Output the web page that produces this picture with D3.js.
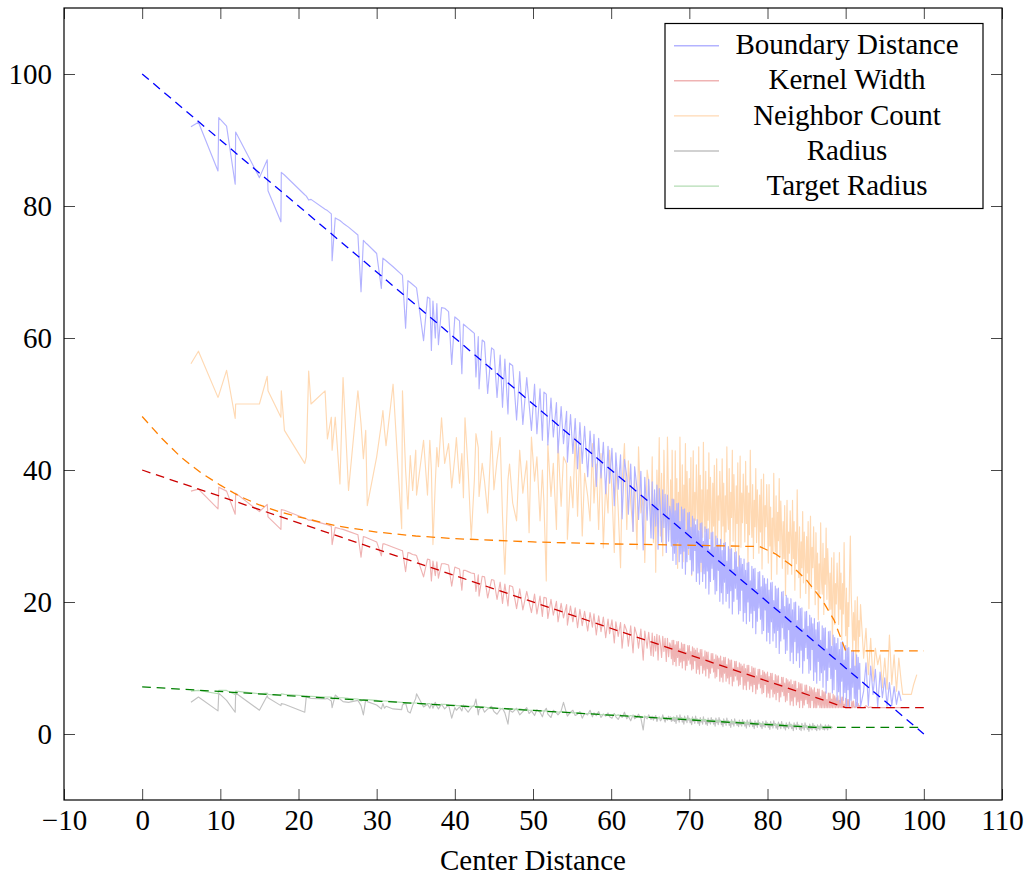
<!DOCTYPE html>
<html><head><meta charset="utf-8">
<script src="https://cdn.jsdelivr.net/npm/d3@7"></script>
<style>
body{margin:0;background:#fff;}
svg text{font-family:"Liberation Serif","Times New Roman",serif;}
</style></head><body>
<svg id="chart" width="1030" height="876"></svg>
<script>
// ---------- data ----------
const centerDistance = [
6.24,7.2,9.7,9.8,10.8,11.9,11.96,15.0,16.0,16.1,
17.75,17.8,18.2,20.8,21.0,21.3,21.6,23.4,23.7,24.2,
24.3,24.7,25.3,25.7,26.4,27.6,28.0,28.3,28.6,28.8,
30.0,30.6,30.8,31.0,31.2,32.1,33.2,33.3,33.7,34.0,
34.3,34.6,35.0,35.1,36.0,36.5,36.8,37.0,37.2,37.5,
37.7,37.9,38.3,
38.7,39.2,39.6,40.0,40.2,40.6,40.9,41.1,41.3,41.7,
42.1,42.5,42.7,43.0,43.1,43.5,43.8,44.2,44.7,45.0,
45.4,45.8,46.1,46.4,46.8,47.0,47.4,47.9,48.3,48.7,
49.2,49.5,49.8,50.2,50.5,50.9,51.2,51.4,51.7,51.9,
52.3,52.6,53.0,53.2,53.6,53.9,54.3,54.4,54.8,55.1,
55.4,55.7,56.0,56.3,56.6,57.0,57.3,57.6,57.8,58.1,
58.4,58.7,59.0,59.3,59.6,59.8,
60.1,60.4,60.6,60.9,61.2,61.4,61.7,62.0,62.2,62.5,
62.8,63.0,63.3,63.5,63.8,64.1,64.3,64.6,64.8,65.1,
65.25,65.4,65.55,65.7,65.85,66.0,66.15,66.3,66.45,66.6,66.75,66.9,67.05,67.2,67.35,67.5,
67.6,67.7,67.8,67.9,
68.0,68.1,68.2,68.3,68.4,68.5,68.6,68.7,68.8,68.9,
69.0,69.1,69.2,69.3,69.4,69.5,69.6,69.7,69.8,69.9,
70.0,70.1,70.2,70.3,70.4,70.5,70.6,70.7,70.8,70.9,
71.0,71.1,71.2,71.3,71.4,71.5,71.6,71.7,71.8,71.9,
72.0,72.1,72.2,72.3,72.4,72.5,72.6,72.7,72.8,72.9,
73.0,73.1,73.2,73.3,73.4,73.5,73.6,73.7,73.8,73.9,
74.0,74.1,74.2,74.3,74.4,74.5,74.6,74.7,74.8,74.9,
75.0,75.1,75.2,75.3,75.4,75.5,75.6,75.7,75.8,75.9,
76.0,76.1,76.2,76.3,76.4,76.5,76.6,76.7,76.8,76.9,
77.0,77.1,77.2,77.3,77.4,77.5,77.6,77.7,77.8,77.9,
78.0,78.1,78.2,78.3,78.4,78.5,78.6,78.7,78.8,78.9,
79.0,79.1,79.2,79.3,79.4,79.5,79.6,79.7,79.8,79.9,
80.0,80.1,80.2,80.3,80.4,80.5,80.6,80.7,80.8,80.9,
81.0,81.1,81.2,81.3,81.4,81.5,81.6,81.7,81.8,81.9,
82.0,82.1,82.2,82.3,82.4,82.5,82.6,82.7,82.8,82.9,
83.0,83.1,83.2,83.3,83.4,83.5,83.6,83.7,83.8,83.9,
84.0,84.1,84.2,84.3,84.4,84.5,84.6,84.7,84.8,84.9,
85.0,85.1,85.2,85.3,85.4,85.5,85.6,85.7,85.8,85.9,
86.0,86.1,86.2,86.3,86.4,86.5,86.6,86.7,86.8,86.9,
87.0,87.1,87.2,87.3,87.4,87.5,87.6,87.7,87.8,87.9,
88.0,88.1,88.2,88.3,88.4,88.5,88.6,88.7,88.8,88.9,
89.0,89.1,89.2,89.3,89.4,89.5,89.6,89.7,89.8,89.9,
90.0,90.1,90.2,90.3,90.4,90.5,90.6,90.7,90.8,90.9,
91.0,91.1,91.2,91.3,91.4,91.5,91.6,91.7,91.8,91.9,
92.3,
92.6,92.9,93.2,93.5,93.8,94.1,94.4,94.7,95.0,95.3,
95.6,95.9,96.2,96.5,96.8,97.1,97.3,97.7,98.0,98.4,
98.7,99.1
];
const boundaryDistance = [
92.0,92.7,85.3,93.4,92.1,83.3,91.2,84.3,87.0,82.3,
77.6,85.1,84.7,81.7,81.5,80.9,81.0,79.5,79.3,78.8,
71.7,78.2,77.8,77.4,76.8,75.6,67.0,74.8,74.4,74.2,
72.8,67.5,72.1,71.9,71.7,70.8,69.6,69.5,61.5,68.7,
68.4,68.1,67.7,67.6,59.6,66.2,66.0,58.1,65.6,60.0,
65.2,59.0,64.6,
64.5,64.0,56.0,63.2,63.0,62.6,54.6,62.1,61.9,61.5,
61.1,60.7,54.1,60.2,52.3,59.7,59.4,51.6,58.5,58.2,
51.0,57.4,49.5,56.8,48.5,56.2,55.8,47.6,54.9,46.9,
54.0,50.0,46.0,53.0,45.5,52.3,44.5,51.8,51.5,43.8,
50.9,45.0,50.2,42.6,49.6,44.0,48.9,41.2,48.4,42.5,
47.8,40.2,47.2,41.0,46.6,39.0,45.9,40.5,45.4,37.5,
44.8,38.8,44.2,36.4,43.6,38.0,
43.3,34.6,42.6,37.1,42.3,32.6,41.6,39.0,33.3,40.9,
30.7,40.5,37.2,32.5,39.8,27.9,38.9,32.4,38.6,29.7,
38.2,29.6,37.0,31.5,37.7,28.0,37.2,34.2,29.1,37.0,31.3,36.3,27.5,36.2,29.2,34.5,
33.4,28.5,35.6,26.3,
35.5,27.4,33.8,25.7,34.9,29.0,35.0,26.1,32.2,27.3,
34.4,25.1,34.0,27.7,34.1,24.2,30.9,26.1,33.5,28.1,
33.6,26.4,31.3,24.2,33.0,24.7,32.6,27.8,31.7,23.1,
32.5,24.4,30.8,22.7,31.9,26.0,32.0,23.1,29.2,24.3,
31.4,22.1,31.0,24.7,31.1,21.2,27.9,23.1,30.5,25.1,
30.6,23.4,28.3,21.2,30.0,21.7,29.6,24.8,28.7,20.1,
29.5,21.4,27.8,19.7,28.9,23.0,29.0,20.1,26.2,21.3,
28.4,19.1,28.0,21.7,28.1,18.2,24.9,20.1,27.5,22.1,
27.6,20.4,25.3,18.2,27.0,18.7,26.6,21.8,25.7,17.1,
26.5,18.4,24.8,16.7,25.9,20.0,26.0,17.1,23.2,18.3,
25.4,16.1,25.0,18.7,25.1,15.2,21.9,17.1,24.5,19.1,
24.6,17.4,22.3,15.2,24.0,15.7,23.6,18.8,22.7,14.1,
23.5,15.4,21.8,13.7,22.9,17.0,23.0,14.1,20.2,15.3,
22.4,13.1,22.0,15.7,22.1,12.2,18.9,14.1,21.5,16.1,
21.6,14.4,19.3,12.2,21.0,12.7,20.6,15.8,19.7,11.1,
20.5,12.4,18.8,10.7,19.9,14.0,20.0,11.1,17.2,12.3,
19.4,10.1,19.0,12.7,19.1,9.2,15.9,11.1,18.5,13.1,
18.6,11.4,16.3,9.2,18.0,9.7,17.6,12.8,16.7,8.1,
17.5,9.4,15.8,7.7,16.9,11.0,17.0,8.1,14.2,9.3,
16.4,7.1,16.0,9.7,16.1,6.2,12.9,8.1,15.5,10.1,
15.6,8.4,13.3,6.2,15.0,6.7,14.6,9.8,13.7,5.1,
14.5,6.4,12.8,4.7,13.9,8.0,14.0,5.1,11.2,6.3,
13.4,4.1,13.0,6.7,13.1,4.2,9.9,5.1,12.5,7.1,
12.6,5.4,10.3,4.2,12.0,4.3,11.6,6.8,10.7,4.1,
6.5,
10.8,4.3,10.3,6.0,9.8,4.1,9.4,5.5,8.5,4.2,
7.8,4.3,7.2,4.5,6.5,5.0
];
const kernelWidth = [
36.8,37.1,34.1,37.4,36.8,33.3,36.5,33.7,34.8,32.9,
31.0,34.0,33.9,32.7,32.6,32.4,32.4,31.8,31.7,31.5,
28.7,31.3,31.1,31.0,30.7,30.2,26.8,29.9,29.8,29.7,
29.1,27.0,28.8,28.8,28.7,28.3,27.8,27.8,24.6,27.5,
27.4,27.2,27.1,27.0,23.8,26.5,26.4,23.2,26.2,24.0,
26.1,23.6,25.8,
25.8,25.6,22.4,25.3,25.2,25.0,21.8,24.8,24.8,24.6,
24.4,24.3,21.6,24.1,20.9,23.9,23.8,20.6,23.4,23.3,
20.4,23.0,19.8,22.7,19.4,22.5,22.3,19.0,22.0,18.8,
21.6,20.0,18.4,21.2,18.2,20.9,17.8,20.7,20.6,17.5,
20.4,18.0,20.1,17.0,19.8,17.6,19.6,16.5,19.4,17.0,
19.1,16.1,18.9,16.4,18.6,15.6,18.4,16.2,18.2,15.0,
17.9,15.5,17.7,14.6,17.4,15.2,
17.3,13.8,17.0,14.8,16.9,13.0,16.6,15.6,13.3,16.4,
12.3,16.2,14.9,13.0,15.9,11.2,15.6,13.0,15.4,11.9,
15.3,11.8,14.8,12.6,15.1,11.2,14.9,13.7,11.6,14.8,12.5,14.5,11.0,14.5,11.7,13.8,
13.4,11.4,14.2,10.5,
14.2,11.0,13.5,10.3,14.0,11.6,14.0,10.4,12.9,10.9,
13.8,10.0,13.6,11.1,13.6,9.7,12.4,10.4,13.4,11.2,
13.4,10.6,12.5,9.7,13.2,9.9,13.0,11.1,12.7,9.2,
13.0,9.8,12.3,9.1,12.8,10.4,12.8,9.2,11.7,9.7,
12.6,8.8,12.4,9.9,12.4,8.5,11.2,9.2,12.2,10.0,
12.2,9.4,11.3,8.5,12.0,8.7,11.8,9.9,11.5,8.0,
11.8,8.6,11.1,7.9,11.6,9.2,11.6,8.0,10.5,8.5,
11.4,7.6,11.2,8.7,11.2,7.3,10.0,8.0,11.0,8.8,
11.0,8.2,10.1,7.3,10.8,7.5,10.6,8.7,10.3,6.8,
10.6,7.4,9.9,6.7,10.4,8.0,10.4,6.8,9.3,7.3,
10.2,6.4,10.0,7.5,10.0,6.1,8.8,6.8,9.8,7.6,
9.8,7.0,8.9,6.1,9.6,6.3,9.4,7.5,9.1,5.6,
9.4,6.2,8.7,5.5,9.2,6.8,9.2,5.6,8.1,6.1,
9.0,5.2,8.8,6.3,8.8,4.9,7.6,5.6,8.6,6.4,
8.6,5.8,7.7,4.9,8.4,5.1,8.2,6.3,7.9,4.4,
8.2,5.0,7.5,4.3,8.0,5.6,8.0,4.4,6.9,4.9,
7.8,4.0,7.6,5.1,7.6,4.0,6.4,4.4,7.4,5.2,
7.4,4.6,6.5,4.0,7.2,4.0,7.0,5.1,6.7,4.0,
7.0,4.0,6.3,4.0,6.8,4.4,6.8,4.0,5.7,4.0,
6.6,4.0,6.4,4.0,6.4,4.0,5.2,4.0,6.2,4.0,
6.2,4.0,5.3,4.0,6.0,4.0,5.8,4.0,5.5,4.0,
5.8,4.0,5.1,4.0,5.6,4.0,5.6,4.0,4.5,4.0,
5.4,4.0,5.2,4.0,5.2,4.0,4.0,4.0,5.0,4.0,
5.0,4.0,4.1,4.0,4.8,4.0,4.6,4.0,4.3,4.0,
4.0,
4.3,4.0,4.1,4.0,4.0,4.0,4.0,4.0,4.0,4.0,
4.0,4.0,4.0,4.0,4.0,4.0
];
const neighborCount = [
56.1,58.0,51.0,51.3,55.1,47.8,50.0,50.0,54.2,52.0,
48.0,52.0,46.0,41.0,42.0,55.0,50.0,52.0,44.7,48.0,
43.0,48.0,37.9,54.0,36.9,52.0,47.0,41.7,46.0,34.6,
42.0,47.0,49.0,46.0,43.7,53.0,31.1,52.0,40.0,34.1,
42.2,36.9,43.0,36.2,44.5,36.2,44.5,40.0,28.7,38.0,
43.4,40.5,47.9,
41.0,44.0,37.3,42.0,44.9,38.0,42.5,35.8,47.9,40.0,
29.7,38.5,45.5,43.4,36.0,41.0,38.3,33.5,45.9,37.0,
41.5,44.9,33.0,24.2,38.5,40.9,35.0,32.3,43.0,36.5,
41.4,30.5,45.0,38.3,42.0,32.3,40.0,35.0,23.2,43.9,
36.0,41.0,31.0,44.4,34.5,42.0,40.9,29.5,39.0,34.3,
45.0,33.0,43.4,30.0,39.5,36.0,32.3,44.0,35.0,40.9,
31.0,42.5,28.2,38.0,33.5,43.0,
36.8,27.5,41.0,34.0,25.2,38.0,44.0,31.0,41.4,35.0,
30.7,39.0,28.0,43.5,33.5,36.0,26.0,40.0,38.3,31.5,
42.0,29.0,36.5,24.5,40.0,33.0,44.9,30.0,39.5,27.0,43.0,33.5,28.7,45.0,35.0,31.0,
38.5,29.0,43.0,33.0,
35.6,28.2,42.9,31.4,38.7,25.1,36.6,30.3,45.0,33.5,
30.3,40.8,26.1,37.7,32.4,44.0,29.3,39.8,34.5,27.2,
38.7,31.4,41.9,24.0,34.5,42.9,28.2,36.6,32.4,40.8,
35.0,28.8,43.5,31.0,39.2,24.6,37.0,29.8,44.2,33.9,
30.6,39.8,26.9,37.0,32.4,42.6,29.6,38.9,34.3,27.8,
38.0,31.5,40.7,25.0,34.3,41.7,28.7,36.1,32.4,39.8,
35.2,28.7,41.7,31.5,38.0,25.9,36.1,30.6,43.5,33.3,
31.0,40.2,26.5,36.6,32.8,43.0,29.2,39.3,33.9,27.4,
37.6,31.9,41.1,25.4,33.9,42.1,28.3,36.5,32.0,39.4,
34.8,29.1,41.3,31.9,37.6,25.5,36.5,30.2,43.0,33.7,
29.8,37.8,26.6,35.4,31.4,40.2,29.0,37.0,33.0,27.4,
36.2,30.6,38.6,25.0,33.0,39.4,28.2,34.6,31.4,37.8,
31.9,25.9,37.8,28.5,34.4,23.4,32.7,27.6,39.5,30.2,
27.6,36.1,24.2,33.6,29.3,38.7,26.8,35.3,31.0,25.1,
32.2,26.6,34.6,21.0,29.0,35.4,24.2,30.6,27.4,33.8,
29.8,24.2,35.4,26.6,32.2,21.8,30.6,25.8,37.0,28.2,
23.7,31.4,20.6,29.1,25.2,33.7,22.9,30.6,26.8,21.3,
29.9,24.4,32.2,19.0,26.8,33.0,22.1,28.3,25.2,31.4,
25.0,19.6,30.5,21.9,27.4,17.3,25.8,21.2,32.0,23.5,
21.2,28.9,18.1,26.6,22.7,31.2,20.4,28.1,24.3,18.8,
24.4,18.9,26.7,13.5,21.3,27.5,16.6,22.8,19.7,25.9,
22.0,16.6,27.5,18.9,24.4,14.3,22.8,18.2,29.0,20.5,
14.9,22.1,12.0,19.9,16.3,24.3,30.0,21.4,17.8,12.7,
18.4,14.2,20.2,10.0,16.0,20.8,12.4,17.2,14.8,19.6,
11.5,
16.0,9.0,14.5,8.0,13.0,10.5,12.0,7.0,11.5,6.8,
15.0,7.5,12.0,6.5,11.5,8.0,6.0,6.0,6.0,6.0,
7.5,9.0
];
const radius = [
4.8,5.6,3.5,6.2,5.1,3.3,6.2,3.6,5.8,5.5,
4.3,4.6,4.5,3.3,5.7,5.5,5.4,5.3,5.4,5.0,
4.0,5.9,5.3,4.9,4.8,5.1,4.3,2.9,5.2,4.9,
4.4,3.8,4.6,3.9,4.2,3.8,3.7,4.4,4.7,3.4,
3.2,4.3,5.4,6.1,4.1,4.5,3.9,4.6,3.9,4.8,
4.2,3.8,4.5,
3.8,4.4,2.4,4.0,3.6,4.1,3.5,4.4,3.9,3.3,
4.0,4.4,5.3,2.9,3.7,4.1,3.3,3.8,4.2,3.4,
3.0,3.7,3.9,3.2,1.5,3.6,3.3,3.9,2.9,3.4,
4.0,3.1,3.5,2.8,3.7,3.3,2.6,3.4,3.9,3.0,
2.5,3.6,3.2,2.9,3.5,4.8,3.1,2.7,3.3,3.6,
2.8,3.0,3.4,2.4,3.1,2.9,3.6,2.6,3.2,2.8,
3.4,2.5,3.0,2.7,3.2,2.6,
2.4,3.1,2.6,2.2,2.9,2.5,3.3,2.3,2.7,2.0,
2.9,2.3,2.6,3.0,2.4,0.6,2.7,2.3,2.9,2.2,
2.7,2.1,2.5,2.8,1.9,2.4,2.6,2.0,2.2,2.9,2.3,1.8,2.5,2.1,2.7,2.2,
2.6,1.9,2.4,2.0,
2.6,1.9,2.4,1.6,2.8,2.1,2.5,1.8,2.9,2.2,
2.5,1.8,2.3,1.5,2.7,2.0,2.4,1.7,2.8,2.1,
2.4,1.7,2.2,1.4,2.6,1.9,2.3,1.6,2.7,2.0,
2.3,1.6,2.1,1.3,2.5,1.8,2.2,1.5,2.6,1.9,
2.2,1.5,2.0,1.3,2.4,1.7,2.1,1.5,2.5,1.8,
2.2,1.5,2.0,1.2,2.4,1.7,2.1,1.4,2.5,1.8,
2.1,1.4,1.9,1.1,2.3,1.6,2.0,1.3,2.4,1.7,
2.0,1.3,1.8,1.0,2.2,1.5,1.9,1.2,2.3,1.6,
1.9,1.3,1.7,1.1,2.1,1.4,1.8,1.2,2.2,1.5,
1.9,1.2,1.7,0.9,2.1,1.4,1.8,1.1,2.2,1.5,
1.8,1.1,1.6,0.8,2.0,1.3,1.7,1.0,2.1,1.4,
1.7,1.1,1.5,0.8,1.9,1.2,1.6,1.0,2.0,1.3,
1.7,1.0,1.5,0.7,1.9,1.2,1.6,0.9,2.0,1.3,
1.6,0.9,1.4,0.7,1.8,1.1,1.5,0.8,1.9,1.2,
1.5,0.9,1.3,0.6,1.7,1.0,1.4,0.8,1.8,1.1,
1.5,0.8,1.3,0.5,1.7,1.0,1.4,0.7,1.8,1.1,
1.4,0.7,1.2,0.5,1.6,0.9,1.3,0.6,1.7,1.0,
1.3,0.7,1.1,0.4,1.5,0.8,1.2,0.6,1.6,0.9,
1.3,0.7,1.1,0.5,1.4,0.8,1.2,0.6,1.5,0.9,
1.2,0.7,1.1,0.6,1.4,0.8,1.2,0.6,1.4,0.9,
1.2,0.8,1.1,0.9
];
const targetRadius = [
6.5,6.6,6.1,6.6,6.6,6.0,6.5,6.1,6.2,6.0,
5.8,6.1,6.0,5.8,5.8,5.7,5.7,5.6,5.6,5.6,
5.3,5.5,5.5,5.5,5.4,5.3,5.0,5.2,5.2,5.2,
5.1,4.9,5.0,5.0,5.0,4.9,4.8,4.8,4.6,4.7,
4.7,4.7,4.7,4.7,4.4,4.6,4.6,4.4,4.5,4.4,
4.5,4.4,4.5,
4.5,4.4,4.4,4.4,4.3,4.3,4.3,4.2,4.3,4.2,
4.2,4.2,4.1,4.2,4.1,4.1,4.1,4.0,4.0,4.0,
3.9,3.9,3.8,3.9,3.8,3.8,3.8,3.7,3.8,3.7,
3.7,3.6,3.6,3.6,3.6,3.5,3.5,3.5,3.5,3.4,
3.4,3.4,3.4,3.3,3.4,3.3,3.3,3.2,3.3,3.2,
3.2,3.2,3.2,3.1,3.1,3.1,3.1,3.0,3.0,3.0,
3.0,2.9,3.0,2.9,2.9,2.9,
2.9,3.0,2.8,2.9,2.8,2.7,2.9,2.8,2.6,2.8,
2.7,2.8,2.6,2.7,2.6,2.5,2.7,2.6,2.5,2.6,
2.5,2.6,2.4,2.5,2.5,2.4,2.5,2.4,2.3,2.5,2.4,2.3,2.4,2.3,2.4,2.4,
2.4,2.5,2.3,2.5,
2.4,2.5,2.3,2.5,2.4,2.4,2.2,2.3,2.4,2.3,
2.3,2.4,2.2,2.4,2.3,2.4,2.2,2.3,2.3,2.2,
2.2,2.3,2.1,2.3,2.2,2.3,2.1,2.2,2.3,2.2,
2.1,2.2,2.0,2.2,2.1,2.2,2.0,2.1,2.2,2.1,
2.1,2.2,2.0,2.1,2.0,2.1,1.9,2.0,2.1,2.0,
2.0,2.1,1.9,2.1,2.0,2.0,1.9,2.0,2.0,1.9,
1.9,2.0,1.8,2.0,1.9,2.0,1.8,1.9,2.0,1.9,
1.8,1.9,1.7,1.9,1.8,1.9,1.7,1.8,1.9,1.8,
1.8,1.9,1.7,1.8,1.7,1.8,1.6,1.7,1.8,1.7,
1.7,1.8,1.6,1.8,1.7,1.7,1.6,1.7,1.7,1.6,
1.6,1.7,1.5,1.7,1.6,1.7,1.5,1.6,1.7,1.6,
1.6,1.6,1.5,1.6,1.5,1.6,1.4,1.5,1.6,1.5,
1.5,1.6,1.4,1.6,1.5,1.5,1.4,1.5,1.5,1.4,
1.4,1.5,1.3,1.5,1.4,1.5,1.3,1.4,1.5,1.4,
1.3,1.4,1.2,1.4,1.3,1.4,1.2,1.3,1.4,1.3,
1.3,1.4,1.2,1.3,1.2,1.3,1.1,1.2,1.3,1.2,
1.2,1.3,1.1,1.3,1.2,1.2,1.1,1.2,1.2,1.1,
1.1,1.2,1.0,1.2,1.1,1.2,1.0,1.1,1.2,1.1,
1.1,1.2,1.0,1.1,1.0,1.1,1.0,1.0,1.1,1.0,
1.0,1.1,1.0,1.1,1.0,1.1,1.0,1.0,1.1,1.0,
1.0,1.1,1.0,1.0
];
// dashed reference curves
const refBoundaryX = [0, 100];
const refBoundaryY = [100, 0];
const refKernelX = [0, 90, 100];
const refKernelY = [40, 4, 4];
const refNeighborX = [0,2.5,5,7.5,10,12.5,15,17.5,20,25,30,35,40,50,60,70,79,81,83,85,87,88.5,90,100];
const refNeighborY = [48.1,44.8,41.9,39.6,37.7,36.0,34.7,33.7,32.9,31.5,30.6,30.0,29.6,29.1,28.8,28.6,28.4,27.3,25.6,23.3,20.3,17.3,12.6,12.6];
const refTargetX = [0, 86, 100];
const refTargetY = [7.15, 1.0, 1.0];
// axes
const xTicks = [-10,0,10,20,30,40,50,60,70,80,90,100,110];
const yTicks = [0,20,40,60,80,100];
const xDomain = [-10, 110];
const yDomain = [-10, 110];
const seriesNames = ["Boundary Distance","Kernel Width","Neighbor Count","Radius","Target Radius"];
const xLabel = "Center Distance";

// ---------- drawing ----------
const L = 64, R = 1002, T = 8, B = 800;
const FONT = 29;
const svg = d3.select("#chart");
const x = d3.scaleLinear().domain(xDomain).range([L, R]);
const y = d3.scaleLinear().domain(yDomain).range([B, T]);

svg.append("defs").append("clipPath").attr("id","plotclip")
  .append("rect").attr("x",L).attr("y",T).attr("width",R-L).attr("height",B-T);

const lightColors = {
  "Boundary Distance":"#b3b3ff",
  "Kernel Width":"#efb3b3",
  "Neighbor Count":"#ffd9b3",
  "Radius":"#c2c2c2",
  "Target Radius":"#b3dcb3"
};
const seriesValues = {
  "Boundary Distance":boundaryDistance,
  "Kernel Width":kernelWidth,
  "Neighbor Count":neighborCount,
  "Radius":radius,
  "Target Radius":targetRadius
};
const line = d3.line().x(d=>x(d[0])).y(d=>y(d[1]));
function pts(xs, ys){
  const out=[];
  for(let i=0;i<xs.length && i<ys.length;i++){ if(ys[i]!=null) out.push([xs[i],ys[i]]); }
  return out;
}
const plot = svg.append("g").attr("clip-path","url(#plotclip)");
["Neighbor Count","Kernel Width","Boundary Distance","Radius","Target Radius"].forEach(name=>{
  plot.append("path")
    .datum(pts(centerDistance, seriesValues[name]))
    .attr("d", line)
    .attr("fill","none")
    .attr("stroke", lightColors[name])
    .attr("stroke-width", 1.15)
    .attr("stroke-linejoin","round");
});
const refs = [
  [refBoundaryX, refBoundaryY, "#0000ff"],
  [refKernelX, refKernelY, "#cc0000"],
  [refNeighborX, refNeighborY, "#ff8000"],
  [refTargetX, refTargetY, "#008000"]
];
refs.forEach(([xs,ys,c])=>{
  plot.append("path")
    .datum(pts(xs,ys))
    .attr("d", line)
    .attr("fill","none")
    .attr("stroke", c)
    .attr("stroke-width", 1.3)
    .attr("stroke-dasharray","8.7,5.8");
});

// axes (ticks inside, mirrored)
const fmt = d3.format("d");
function styleAxis(g){
  g.select(".domain").remove();
  g.selectAll(".tick line").attr("stroke","#333").attr("stroke-width",0.9);
  g.selectAll(".tick text").attr("fill","#000")
    .style("font-family",'"Liberation Serif","Times New Roman",serif')
    .style("font-size", FONT+"px");
}
svg.append("g").attr("transform",`translate(0,${B})`)
  .call(d3.axisBottom(x).tickValues(xTicks).tickSize(-11).tickPadding(9).tickFormat(fmt))
  .call(styleAxis);
svg.append("g").attr("transform",`translate(0,${T})`)
  .call(d3.axisTop(x).tickValues(xTicks).tickSize(-11).tickFormat(""))
  .call(styleAxis);
svg.append("g").attr("transform",`translate(${L},0)`)
  .call(d3.axisLeft(y).tickValues(yTicks).tickSize(-11).tickPadding(12).tickFormat(fmt))
  .call(styleAxis);
svg.append("g").attr("transform",`translate(${R},0)`)
  .call(d3.axisRight(y).tickValues(yTicks).tickSize(-11).tickFormat(""))
  .call(styleAxis);

svg.append("rect").attr("x",L).attr("y",T).attr("width",R-L).attr("height",B-T)
  .attr("fill","none").attr("stroke","#000").attr("stroke-width",1.2);

svg.append("text").attr("x", x(50)).attr("y", 870).attr("text-anchor","middle")
  .style("font-size", FONT+"px").attr("fill","#000").text(xLabel);

const lg = svg.append("g");
lg.append("rect").attr("x",665).attr("y",23.5).attr("width",318).attr("height",185)
  .attr("fill","#fff").attr("stroke","#000").attr("stroke-width",1.2);
seriesNames.forEach((name,i)=>{
  const cy = 45.7 + i*35.1;
  lg.append("line").attr("x1",674).attr("x2",719).attr("y1",cy).attr("y2",cy)
    .attr("stroke", lightColors[name]).attr("stroke-width",1.4);
  lg.append("text").attr("x",847).attr("y",cy+8.6).attr("text-anchor","middle")
    .style("font-size", FONT+"px").attr("fill","#000").text(name);
});
</script>
</body></html>
